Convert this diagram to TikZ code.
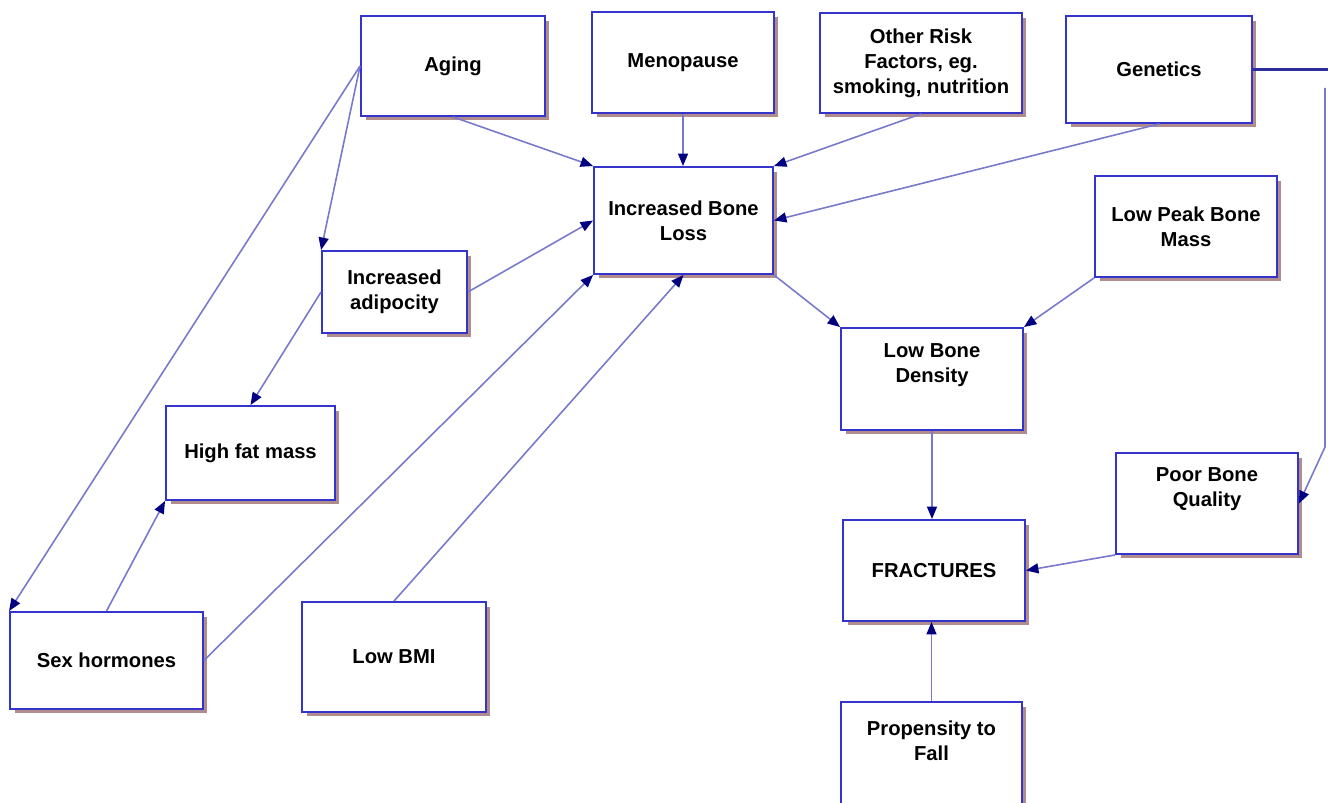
\documentclass[tikz,border=0pt]{standalone}
\usepackage{fontspec}
\setmainfont{Liberation Sans}
\usetikzlibrary{arrows.meta,shadows}
\definecolor{boxblue}{RGB}{52,52,204}
\definecolor{shadowbrown}{RGB}{176,140,140}
\definecolor{linkblue}{RGB}{120,120,205}
\definecolor{tipnavy}{RGB}{0,0,128}
\definecolor{genline}{RGB}{45,45,160}

\begin{document}
\begin{tikzpicture}[x=0.02cm,y=-0.02cm,
    box/.style={draw=boxblue,line width=1.1pt,fill=white,align=center,inner sep=0pt,
        font=\fontsize{11.5}{14.2}\selectfont\bfseries,
        drop shadow={shadow xshift=0.09cm,shadow yshift=-0.09cm,fill=shadowbrown,opacity=1}},
    link/.style={linkblue,line width=0.9pt,-{Triangle[length=0.25cm,width=0.2cm,color=tipnavy]}}]

    \clip (0,0) rectangle (1328,803);

    % Top row of causes
    \node[box,minimum width=3.68cm,minimum height=2cm] (aging) at (453,66) {Aging};
    \node[box,minimum width=3.64cm,minimum height=2.02cm] (meno) at (683,62.5) {Menopause};
    \node[box,minimum width=4.04cm,minimum height=2cm] (risk) at (921,63) {Other Risk\\Factors, eg.\\smoking, nutrition};
    \node[box,minimum width=3.72cm,minimum height=2.14cm] (genetics) at (1159,69.5) {Genetics};

    % Middle boxes
    \node[box,minimum width=3.58cm,minimum height=2.14cm] (ibl) at (683.5,220.5) {Increased Bone\\Loss};
    \node[box,minimum width=3.64cm,minimum height=2.02cm] (lpbm) at (1186,226.5) {Low Peak Bone\\Mass};
    \node[box,minimum width=2.9cm,minimum height=1.64cm] (adip) at (394.5,292) {Increased\\adipocity};
    \node[box,minimum width=3.64cm,minimum height=2.04cm] (lbd) at (932,379) {Low Bone\\Density\\\strut};
    \node[box,minimum width=3.38cm,minimum height=1.88cm] (hfm) at (250.5,453) {High fat mass};
    \node[box,minimum width=3.64cm,minimum height=2.02cm] (pbq) at (1207,503.5) {Poor Bone\\Quality\\\strut};

    % Bottom boxes
    \node[box,minimum width=3.64cm,minimum height=2.02cm] (frac) at (934,570.5) {FRACTURES};
    \node[box,minimum width=3.86cm,minimum height=1.94cm] (sex) at (106.5,660.5) {Sex hormones};
    \node[box,minimum width=3.68cm,minimum height=2.2cm] (bmi) at (394,657) {Low BMI};
    \node[box,minimum width=3.62cm,minimum height=2.2cm] (fall) at (931.5,757) {Propensity to\\Fall\\\strut};

    % Into increased bone loss
    \draw[link] (aging.south) -- (ibl.north west);
    \draw[link] (meno.south) -- (meno.south |- ibl.north);
    \draw[link] (risk.south) -- (ibl.north east);
    \draw[link] (genetics.south) -- (ibl.east);
    \draw[link] (adip.east) -- (ibl.west);
    \draw[link] (sex.east) -- (ibl.south west);
    \draw[link] (bmi.north) -- (ibl.south);

    % Aging and fat mass
    \draw[link] (aging.west) -- (adip.north west);
    \draw[link] (aging.west) -- (sex.north west);
    \draw[link] (adip.west) -- (hfm.north);
    \draw[link] (sex.north) -- (hfm.south west);

    % Towards fractures
    \draw[link] (ibl.south east) -- (lbd.north west);
    \draw[link] (lpbm.south west) -- (lbd.north east);
    \draw[link] (lbd.south) -- (lbd.south |- frac.north);
    \draw[link] (pbq.south west) -- (frac.east);
    \draw[link] (fall.north) -- (fall.north |- frac.south);

    % Genetics round the right edge
    \coordinate (gen-r) at (1330,0);
    \coordinate (gen-top) at (1325,88);
    \coordinate (gen-bot) at (1325,447);
    \draw[genline,line width=1.5pt] (genetics.east) -- (genetics.east -| gen-r);
    \draw[link] (gen-top) -- (gen-bot) -- (pbq.east);
\end{tikzpicture}
\end{document}
